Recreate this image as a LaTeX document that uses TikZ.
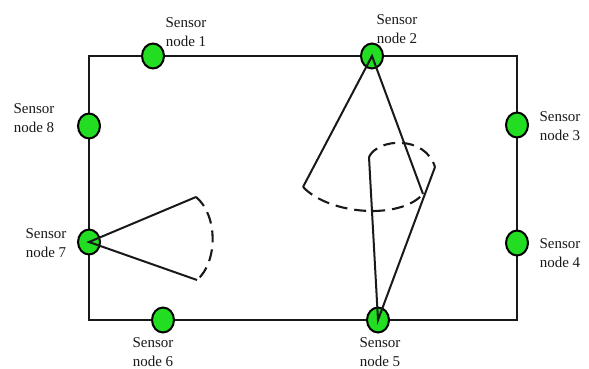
\documentclass[tikz,border=0pt]{standalone}
\usepackage{fontspec}
\setmainfont{Liberation Serif}
\usepackage{xcolor}
\usetikzlibrary{shapes.geometric}
\definecolor{sensorgreen}{RGB}{34,221,34}

\begin{document}
\begin{tikzpicture}[
  x=1pt, y=-1pt,
  sensor/.style={ellipse, draw, line width=2pt, fill=sensorgreen, minimum width=22pt, minimum height=25pt, inner sep=0pt},
  lbl/.style={align=center, font=\fontsize{15}{19.5}\selectfont, text=black!90, inner sep=0pt},
  edge/.style={line width=2pt, black!90},
  arcline/.style={line width=2.1pt, black!90, dash pattern=on 12pt off 7pt}
]
\useasboundingbox (0,0) rectangle (589,369);
\coordinate (nw) at (89,56);
\coordinate (se) at (517,320);
\draw[edge] (nw) rectangle (se);

\node[sensor] (s1) at (153,56) {};
\node[sensor] (s2) at (372,56) {};
\node[sensor] (s3) at (517,125) {};
\node[sensor] (s4) at (517,243) {};
\node[sensor] (s5) at (378,320) {};
\node[sensor] (s6) at (163,320) {};
\node[sensor] (s7) at (89,242) {};
\node[sensor] (s8) at (89,126) {};

\node[lbl] (t1) at (186,32) {Sensor\\node 1};
\node[lbl] (t2) at (397,29) {Sensor\\node 2};
\node[lbl] (t3) at (560,126) {Sensor\\node 3};
\node[lbl] (t4) at (560,253) {Sensor\\node 4};
\node[lbl] (t5) at (380,352) {Sensor\\node 5};
\node[lbl] (t6) at (153,352) {Sensor\\node 6};
\node[lbl] (t7) at (46,243) {Sensor\\node 7};
\node[lbl] (t8) at (34,118) {Sensor\\node 8};

\coordinate (a2l) at (303,187);
\coordinate (a2r) at (423,194);
\draw[edge] (a2l) -- (s2.center) -- (a2r);
\draw[arcline] (a2l) .. controls (330,215) and (400,220) .. (a2r);

\coordinate (a5l) at (369,157);
\coordinate (a5r) at (435,167);
\draw[edge] (a5l) -- (s5.center) -- (a5r);
\draw[arcline] (a5l) .. controls (378,138) and (425,135) .. (a5r);

\coordinate (a7u) at (196,197);
\coordinate (a7d) at (197,280);
\draw[edge] (a7u) -- (s7.center) -- (a7d);
\draw[arcline] (a7u) .. controls (218,215) and (218,262) .. (a7d);
\end{tikzpicture}
\end{document}
